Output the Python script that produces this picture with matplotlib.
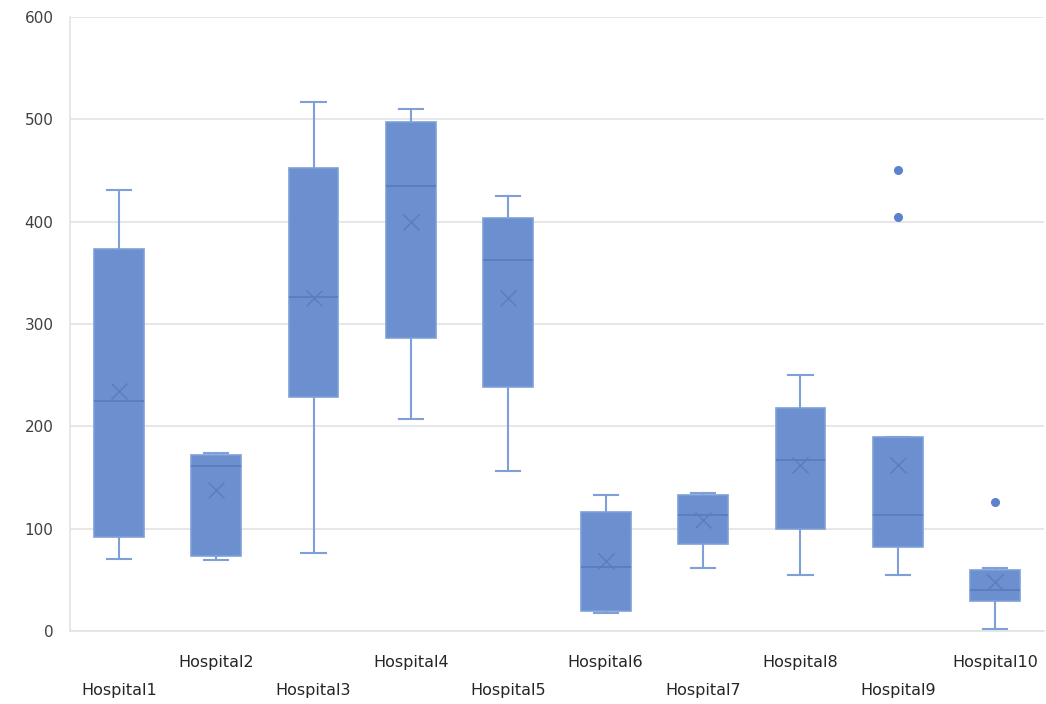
import matplotlib.pyplot as plt

# --- Data ---
hospitals = ["Hospital1", "Hospital2", "Hospital3", "Hospital4", "Hospital5",
             "Hospital6", "Hospital7", "Hospital8", "Hospital9", "Hospital10"]
whisker_low = [70, 69, 76, 207, 156, 18, 62, 55, 55, 2]
q1 = [92, 73, 229, 286, 238, 20, 85, 100, 82, 29]
medians = [225, 161, 326, 435, 363, 63, 113, 167, 113, 40]
means = [235, 138, 325, 400, 325, 68, 108, 162, 162, 48]
q3 = [373, 172, 452, 497, 404, 116, 133, 218, 190, 60]
whisker_high = [431, 174, 517, 510, 425, 133, 135, 250, 190, 62]
outliers = [[], [], [], [], [], [], [], [], [405, 450], [126]]

box_face = "#6b8fcf"
box_edge = "#7e9fd8"
line_dark = "#5a7cc0"

stats = []
for i, name in enumerate(hospitals):
    stats.append(dict(label=name, whislo=whisker_low[i], q1=q1[i], med=medians[i],
                      mean=means[i], q3=q3[i], whishi=whisker_high[i],
                      fliers=outliers[i]))

fig = plt.figure(figsize=(10.46, 7.04), dpi=100)
ax = fig.add_axes([0.067, 0.1037, 0.931, 0.8722])

ax.bxp(stats, positions=range(1, len(hospitals) + 1), widths=0.51,
       patch_artist=True, showmeans=True, showfliers=True, capwidths=0.25,
       boxprops=dict(facecolor=box_face, edgecolor=box_edge, linewidth=1.2),
       medianprops=dict(color=line_dark, linewidth=1.3),
       whiskerprops=dict(color=box_edge, linewidth=1.5),
       capprops=dict(color=box_edge, linewidth=1.5),
       meanprops=dict(marker='x', markeredgecolor=line_dark, markersize=11,
                      markeredgewidth=1.0),
       flierprops=dict(marker='o', markerfacecolor="#5b82cc", markeredgecolor="#5b82cc",
                       markersize=5.5))

ax.set_ylim(0, 600)
ax.set_xlim(0.5, len(hospitals) + 0.5)
ax.set_yticks(range(0, 601, 100))
ax.grid(axis='y', color="#e3e3e3", linewidth=1.2)
ax.set_axisbelow(True)

for side in ['top', 'right']:
    ax.spines[side].set_visible(False)
ax.spines['left'].set_color("#e3e3e3")
ax.spines['bottom'].set_color("#e3e3e3")
ax.spines['left'].set_linewidth(1.2)
ax.spines['bottom'].set_linewidth(1.2)

ax.tick_params(axis='both', length=0)
ax.tick_params(axis='y', labelsize=11, labelcolor="#404040", pad=12)
ax.tick_params(axis='x', labelsize=11.5, labelcolor="#262626")

# staggered category labels like Excel
ax.set_xticks(range(1, len(hospitals) + 1))
ax.set_xticklabels(hospitals)
for i, tick in enumerate(ax.xaxis.get_major_ticks()):
    tick.set_pad(37.5 if i % 2 == 0 else 17.5)

fig.savefig("out.png", dpi=100)
